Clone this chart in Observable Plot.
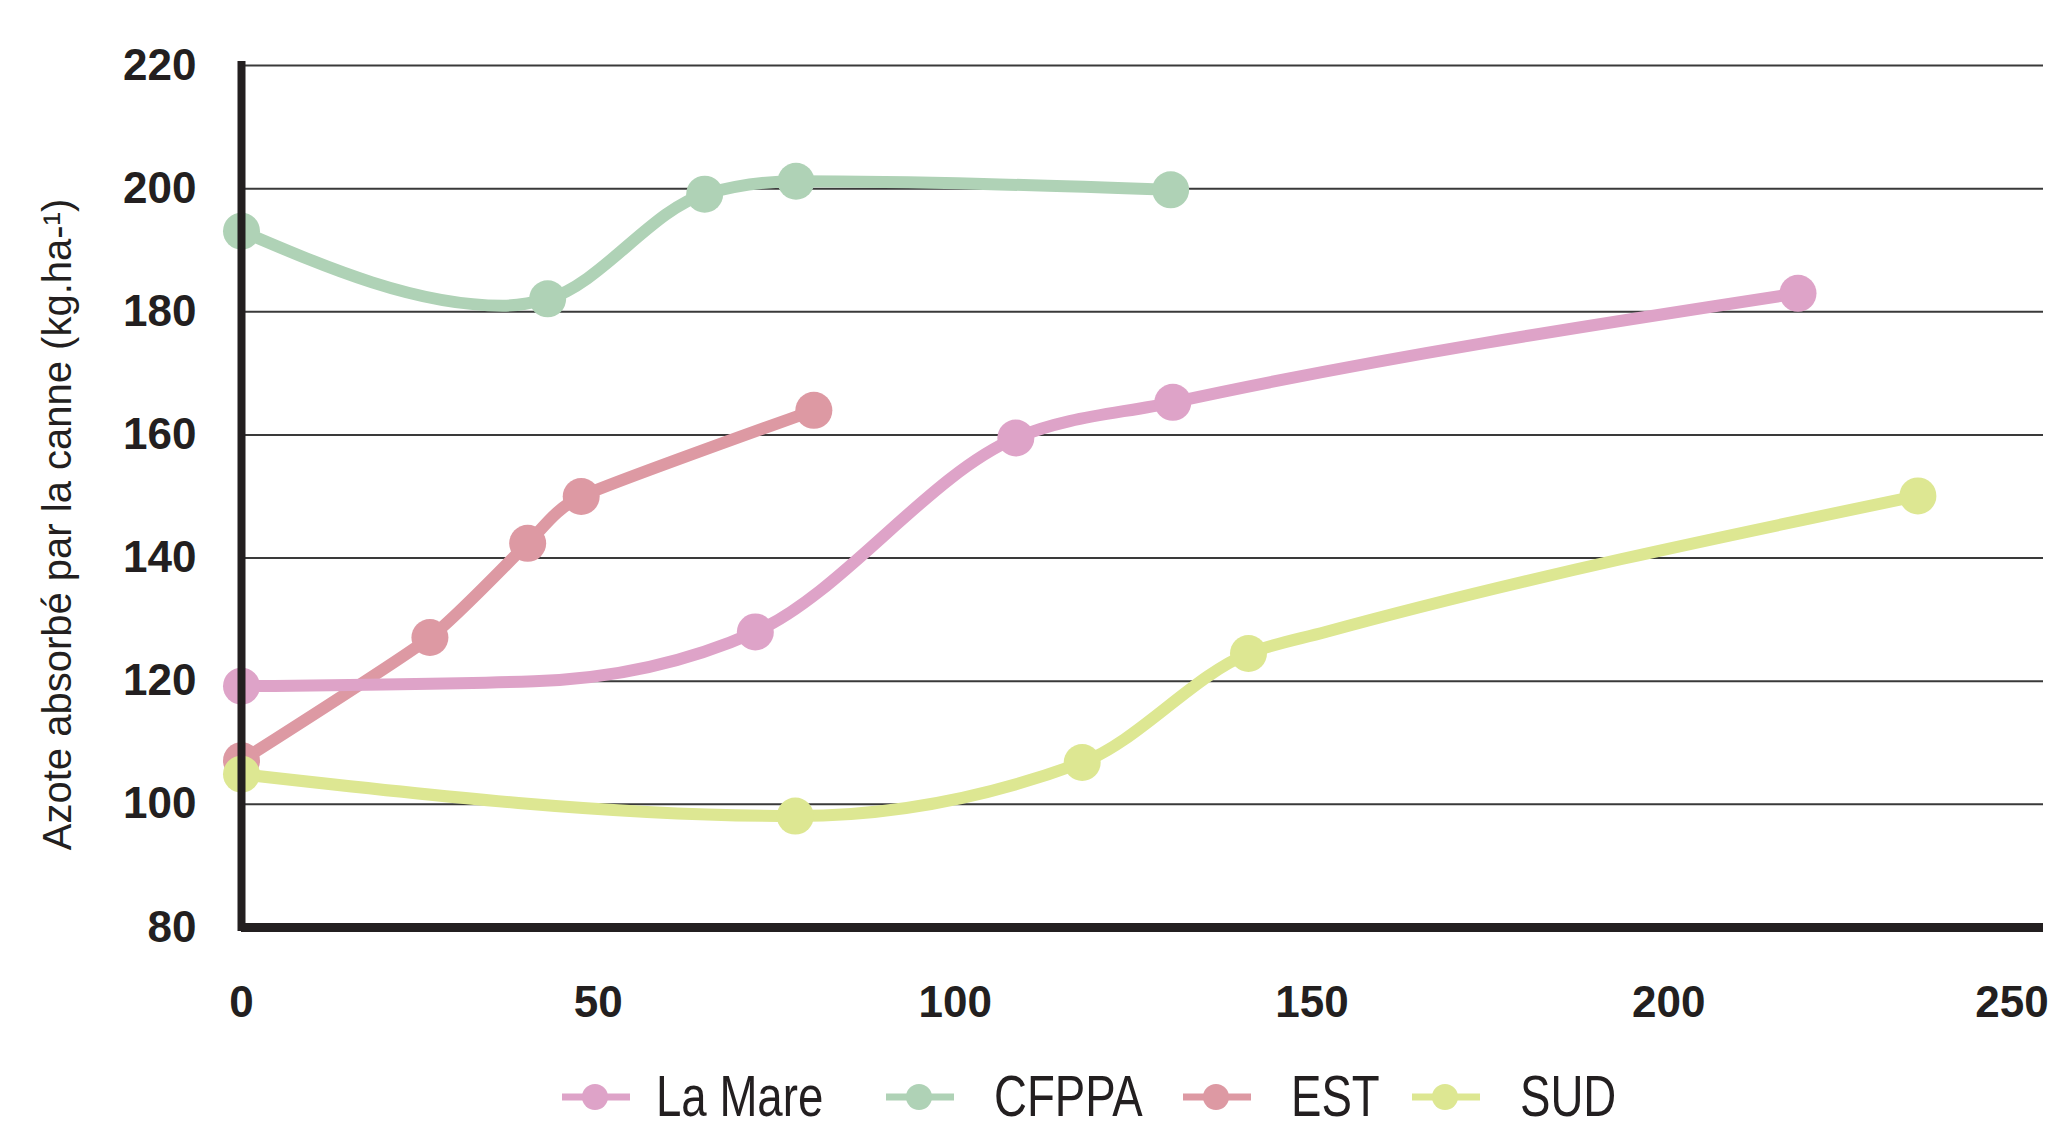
<!DOCTYPE html>
<html>
<head>
<meta charset="utf-8">
<script src="https://cdn.jsdelivr.net/npm/d3@7"></script>
<script src="https://cdn.jsdelivr.net/npm/@observablehq/plot@0.6"></script>
<style>
  html, body { margin: 0; padding: 0; background: #fff; }
  #chart svg { display: block; }
  #legend { display: block; }
</style>
</head>
<body>
<div id="chart"></div>
<svg id="legend" width="2050" height="88"></svg>
<script>
// ---- Data ----
const seriesNames = ["La Mare", "CFPPA", "EST", "SUD"];
const seriesColors = ["#dea3c8", "#afd2b6", "#dd99a3", "#dde792"];

// La Mare
const laMareX = [0, 72.0, 108.5, 130.5, 218.1];
const laMareY = [119.2, 128.0, 159.5, 165.3, 183.0];
const laMareBendX = [41];
const laMareBendY = [120.0];

// CFPPA
const cfppaX = [0, 42.9, 64.9, 77.7, 130.2];
const cfppaY = [193.1, 182.1, 199.1, 201.2, 199.8];
const cfppaBendX = [36.6];
const cfppaBendY = [181.0];

// EST
const estX = [0, 26.4, 40.1, 47.6, 80.2];
const estY = [107.1, 127.1, 142.4, 150.0, 164.0];
const estBendX = [];
const estBendY = [];

// SUD
const sudX = [0, 77.6, 117.8, 141.1, 234.9];
const sudY = [104.9, 98.1, 106.8, 124.5, 150.1];
const sudBendX = [151.9];
const sudBendY = [128.0];

const xTicks = [0, 50, 100, 150, 200];
const xLastTick = [250];
const yTicks = [80, 100, 120, 140, 160, 180, 200, 220];
const yLabel = "Azote absorbé par la canne (kg.ha-¹)";

// ---- Build tables ----
const raw = {
  "La Mare": [laMareX, laMareY, laMareBendX, laMareBendY],
  "CFPPA": [cfppaX, cfppaY, cfppaBendX, cfppaBendY],
  "EST": [estX, estY, estBendX, estBendY],
  "SUD": [sudX, sudY, sudBendX, sudBendY]
};
const drawOrder = ["EST", "CFPPA", "La Mare", "SUD"];
const dots = [];
const paths = {};
for (const s of drawOrder) {
  const [xs, ys, bx, by] = raw[s];
  const pts = [];
  xs.forEach((x, i) => { dots.push({series: s, x, y: ys[i]}); pts.push({series: s, x, y: ys[i]}); });
  bx.forEach((x, i) => pts.push({series: s, x, y: by[i]}));
  pts.sort((a, b) => a.x - b.x);
  paths[s] = pts;
}

const ink = "#231f20";
const lineOpts = (s, curve, extra = {}) => Plot.line(paths[s], {x: "x", y: "y", stroke: "series", curve, strokeWidth: 12, strokeLinecap: "round", strokeLinejoin: "round", ...extra});

const chart = Plot.plot({
  width: 2050,
  height: 1040,
  marginLeft: 241,
  marginRight: 7,
  marginTop: 65,
  marginBottom: 113,
  style: {fontFamily: "'Liberation Sans', Arial, sans-serif", fontSize: "44px", color: ink, background: "#fff", overflow: "visible"},
  x: {domain: [0, 252.5]},
  y: {domain: [80, 220]},
  color: {domain: seriesNames, range: seriesColors},
  marks: [
    Plot.ruleY(yTicks.filter(d => d > 80), {stroke: "#3a3a3a", strokeWidth: 2}),
    Plot.axisY({ticks: yTicks, tickSize: 0, tickPadding: 45, fontWeight: "bold", fontSize: 44, label: null}),
    Plot.axisX({ticks: xTicks, tickSize: 0, tickPadding: 58, fontWeight: "bold", fontSize: 44, label: null}),
    Plot.axisX({ticks: xLastTick, tickSize: 0, tickPadding: 58, fontWeight: "bold", fontSize: 44, label: null, textAnchor: "end", dx: 23}),
    Plot.text([yLabel], {frameAnchor: "left", rotate: -90, dx: -183, dy: 28, fontSize: 40, fontWeight: "normal", textAnchor: "middle", lineAnchor: "middle", fill: ink}),
    lineOpts("EST", "cardinal", {tension: 0.45}),
    lineOpts("CFPPA", "monotone-x"),
    lineOpts("La Mare", "monotone-x"),
    lineOpts("SUD", "monotone-x"),
    Plot.dot(dots, {x: "x", y: "y", fill: "series", r: 18.5, stroke: "none"}),
    Plot.ruleX([0], {y1: 80, y2: 220, stroke: ink, strokeWidth: 8, strokeLinecap: "square"}),
    Plot.ruleY([80], {x1: 0, x2: 252.5, stroke: ink, strokeWidth: 9})
  ]
});
document.getElementById("chart").appendChild(chart);

// ---- Legend (item start positions follow the reference layout) ----
const legend = d3.select("#legend");
const legendStarts = [562, 886, 1183, 1412];
const symY = 57;
const baseY = 76;
const squeeze = 0.8;
seriesNames.forEach((name, i) => {
  const g = legend.append("g").attr("transform", `translate(${legendStarts[i]},0)`);
  g.append("line").attr("x1", 0).attr("x2", 68).attr("y1", symY).attr("y2", symY)
    .attr("stroke", seriesColors[i]).attr("stroke-width", 7);
  g.append("circle").attr("cx", 33).attr("cy", symY).attr("r", 13).attr("fill", seriesColors[i]);
  g.append("text").attr("transform", `translate(${i === 0 ? 94 : 108},${baseY}) scale(${squeeze},1)`).text(name)
    .attr("font-family", "'Liberation Sans', Arial, sans-serif")
    .attr("font-size", 57).attr("fill", ink);
});
</script>
</body>
</html>
